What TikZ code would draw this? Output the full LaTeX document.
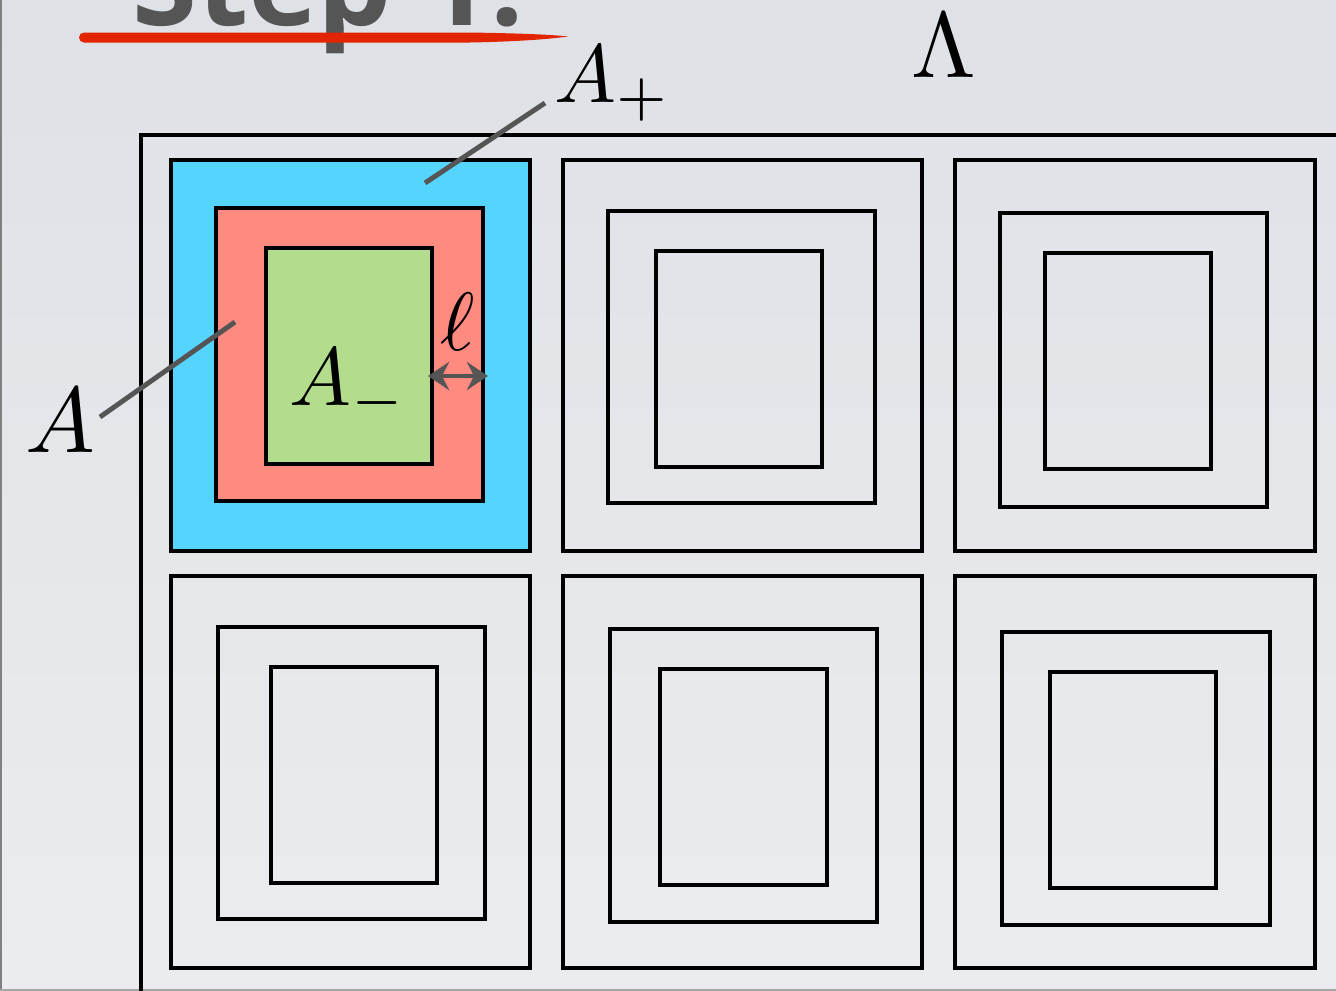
\documentclass[tikz,border=0pt]{standalone}
\usepackage{fontspec}
\newfontfamily\titlefont{Open Sans}
\usetikzlibrary{arrows.meta}

\definecolor{boxblue}{RGB}{85,212,254}
\definecolor{boxred}{RGB}{255,138,128}
\definecolor{boxgreen}{RGB}{179,221,140}
\definecolor{pointergray}{RGB}{85,85,85}
\definecolor{brushred}{RGB}{226,36,0}
\definecolor{slidetop}{RGB}{222,225,230}
\definecolor{slidebottom}{RGB}{235,236,239}

\tikzset{
    cell/.style={draw=black, line width=1.8pt},
    pointer/.style={draw=pointergray, line width=2.8pt},
    mathlbl/.style={inner sep=0pt, anchor=base west, scale=4.7},
    biglbl/.style={inner sep=0pt, anchor=base west, scale=5.3},
    widthtip/.tip={Stealth[length=12pt, width=16pt, inset=4pt]},
}

\begin{document}
\begin{tikzpicture}[x=0.02cm, y=-0.02cm]
    % Slide
    \useasboundingbox (0,0) rectangle (1336,991);
    \clip (0,0) rectangle (1336,991);
    \shade[top color=slidetop, bottom color=slidebottom] (0,0) rectangle (1336,991);
    \draw[gray, line width=1.2pt] (0.6,0) -- (0.6,991);
    \draw[gray!70, line width=1pt] (0,990) -- (1336,990);

    % Title, cut off by the top edge
    \node[inner sep=0pt, anchor=base west, text=pointergray,
          font=\titlefont\bfseries\fontsize{67}{70}\selectfont] (title) at (132,25) {Step 1.};
    \fill[brushred] (84,42.5) arc (90:270:5) -- (470,32.5)
        .. controls (530,33.5) and (555,35) .. (568,36.5)
        .. controls (550,39) and (520,41.5) .. (470,42.5) -- cycle;

    % Lambda
    \draw[cell] (1400,135) -- (141,135) -- (141,1050);
    \node[biglbl] (Lambda) at (910,77) {$\Lambda$};

    % Coloured cell
    \filldraw[cell, fill=boxblue] (171,160) rectangle (530,551);
    \filldraw[cell, fill=boxred] (216,208) rectangle (483,501);
    \filldraw[cell, fill=boxgreen] (266,248) rectangle (432,464);

    % Other cells
    \draw[cell] (563,160) rectangle (922,551);
    \draw[cell] (608,211) rectangle (875,503);
    \draw[cell] (656,251) rectangle (822,467);

    \draw[cell] (955,160) rectangle (1315,551);
    \draw[cell] (1000,213) rectangle (1267,507);
    \draw[cell] (1045,253) rectangle (1211,469);

    \draw[cell] (171,576) rectangle (530,968);
    \draw[cell] (218,627) rectangle (485,919);
    \draw[cell] (271,667) rectangle (437,883);

    \draw[cell] (563,576) rectangle (922,968);
    \draw[cell] (610,629) rectangle (877,922);
    \draw[cell] (660,669) rectangle (827,885);

    \draw[cell] (955,576) rectangle (1315,968);
    \draw[cell] (1002,632) rectangle (1270,925);
    \draw[cell] (1050,672) rectangle (1216,888);

    % Labels
    \node[mathlbl] (Aplus) at (553,102) {$A_+$};
    \node[biglbl] (A) at (24,452) {$A$};
    \node[mathlbl] (Aminus) at (288,405) {$A_-$};
    \node[mathlbl, anchor=base] (ell) at (458,350) {$\ell$};

    % Pointers
    \coordinate (Aplus-from) at (545,103);
    \coordinate (Aplus-to) at (425,183);
    \coordinate (A-from) at (100,417);
    \coordinate (A-to) at (235,322);
    \draw[pointer] (Aplus-from) -- (Aplus-to);
    \draw[pointer] (A-from) -- (A-to);

    % Width ell
    \coordinate (ell-left) at (428,376);
    \coordinate (ell-right) at (488,376);
    \draw[pointer, widthtip-widthtip] (ell-left) -- (ell-right);
\end{tikzpicture}
\end{document}
